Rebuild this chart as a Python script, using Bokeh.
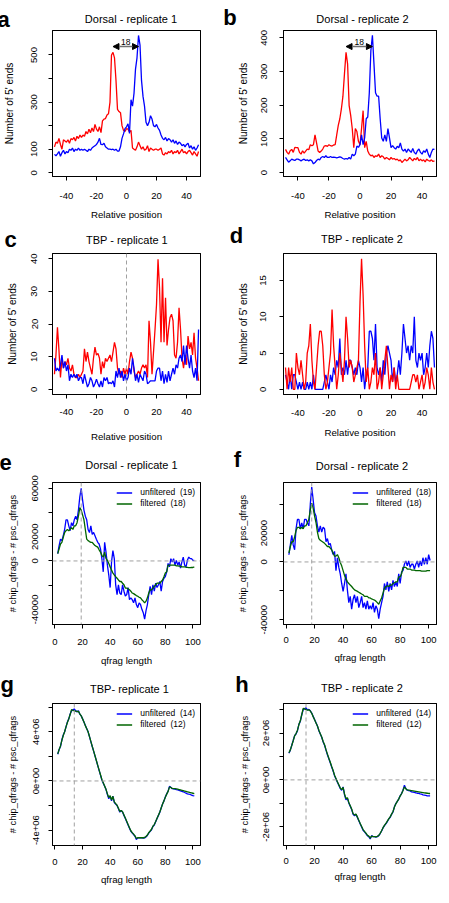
from bokeh.plotting import figure
from bokeh.models import (Range1d, FixedTicker, CustomJSTickFormatter, Span, Label,
                          Arrow, NormalHead, Legend, LegendItem, LinearAxis)
from bokeh.layouts import gridplot
from bokeh.embed import file_html
from bokeh.resources import INLINE

FONT = "Liberation Sans"

# ---------------- data ----------------
pos = list(range(-48, 49))          # relative position (a-d)
qlen = list(range(2, 102))          # qfrag length (e-h)

dorsal1_red = [110, 130, 125, 146, 120, 100, 140, 135,
               130, 140, 125, 145, 140, 150, 135, 155, 145, 160,
               150, 160, 155, 175, 165, 185, 170, 190, 175, 205,
               185, 175, 195, 170, 220, 228, 230, 245, 250, 300,
               500, 511, 488, 392, 269, 260, 255, 200, 180, 175,
               187, 185, 173, 180, 105, 100, 95, 110, 130, 115,
               100, 110, 95, 100, 115, 90, 105, 100, 95, 100,
               100, 95, 100, 105, 80, 75, 85, 80, 90, 85,
               95, 80, 90, 85, 95, 80, 90, 100, 85, 90,
               80, 90, 95, 85, 75, 90, 80, 70, 90]
dorsal1_blue = [78, 72, 80, 90, 70, 85, 95, 80,
                90, 85, 100, 95, 105, 90, 100, 95, 105, 95,
                100, 95, 100, 95, 90, 100, 95, 105, 110, 115,
                120, 130, 146, 120, 119, 125, 110, 105, 100, 100,
                98, 100, 95, 100, 92, 92, 110, 146, 165, 187,
                195, 208, 167, 310, 283, 337, 440, 488, 583, 542,
                392, 324, 283, 214, 200, 214, 242, 228, 200, 195,
                205, 190, 180, 160, 146, 140, 150, 135, 145, 140,
                130, 140, 125, 135, 120, 130, 125, 115, 120, 110,
                120, 125, 105, 115, 100, 110, 95, 105, 119]

dorsal2_red = [69, 60, 55, 65, 69, 60, 75, 74,
               74, 60, 55, 65, 58, 64, 70, 68, 83, 80,
               83, 112, 88, 64, 60, 64, 70, 79, 80, 78,
               83, 80, 79, 82, 83, 112, 140, 160, 189, 227,
               294, 357, 323, 199, 170, 131, 74, 131, 122, 93,
               83, 131, 184, 74, 93, 64, 55, 50, 52, 45,
               50, 48, 55, 45, 50, 47, 40, 45, 42, 38,
               45, 40, 42, 38, 40, 35, 38, 30, 35, 40,
               35, 38, 45, 40, 35, 42, 38, 45, 35, 40,
               35, 38, 32, 40, 36, 34, 38, 33, 35]
dorsal2_blue = [45, 38, 31, 35, 40, 38, 36, 40,
                40, 38, 35, 38, 40, 36, 38, 35, 38, 35,
                26, 30, 36, 40, 38, 45, 48, 45, 50, 45,
                45, 48, 45, 46, 45, 44, 45, 47, 45, 42,
                40, 42, 40, 45, 40, 55, 50, 55, 79, 75,
                83, 112, 83, 103, 160, 165, 237, 362, 408, 323,
                237, 227, 227, 160, 103, 93, 112, 93, 131, 103,
                74, 80, 74, 70, 78, 74, 88, 70, 64, 70,
                60, 70, 65, 60, 72, 60, 55, 65, 70, 60,
                55, 65, 60, 70, 55, 45, 60, 70, 69]

tbp1_red = [4.6, 10.5, 19, 12, 3.6, 9.5, 6.5, 8.5,
            7.5, 9.5, 6.5, 5.6, 7.5, 4.6, 3.6, 3.6, 4.6, 3.6,
            4.6, 5.6, 12.4, 8.5, 11.4, 8.5, 6.5, 4.6, 9.5, 12.9,
            10.5, 11, 9.5, 4.6, 8.5, 6.5, 9.5, 8.5, 9.5, 10.5,
            8.5, 11.4, 14.4, 12.4, 6.5, 4.6, 5.6, 3.6, 6.5, 4.6,
            6.5, 4.6, 8.5, 11.4, 9.5, 5.6, 3.6, 4.6, 5.6, 4.6,
            6.5, 7.5, 6.5, 7.5, 3.6, 21, 14.4, 4.6, 11.4, 18.3,
            26, 39.8, 31, 14.4, 34, 14.4, 28, 13.4, 18.3, 22,
            23, 21, 10.5, 9.5, 14.4, 25, 18.3, 9.5, 6.5, 10.5,
            7.5, 16.3, 12.4, 14.4, 10.5, 17.3, 9.5, 6.5, 2.6]
tbp1_blue = [9.5, 5.6, 6.5, 5.6, 7.5, 10.5, 6.5, 8.5,
             5.6, 7.5, 2.6, 4.6, 3.6, 4.6, 3.6, 4.6, 2.6, 3.6,
             3.6, 1.7, 4.6, 2.6, 0.7, 1.7, 3.6, 2.6, 0.7, 1.7,
             3.1, 1.7, 0.7, 2.6, 0.7, 3.6, 2.6, 3.6, 1.7, 2.1,
             1.7, 2.6, 0.7, 5.6, 3.6, 6.5, 3.6, 5.6, 2.6, 4.6,
             2.6, 3.6, 6.5, 4.6, 9.5, 6.5, 2.6, 4.6, 2.1, 4.6,
             3.6, 2.6, 5.6, 4.6, 1.7, 2.1, 2.6, 2.6, 2.6, 2.6,
             5.6, 6.5, 6.5, 2.6, 5.6, 1.7, 4.6, 2.1, 5.6, 2.6,
             4.6, 6.5, 4.6, 7.5, 6.5, 9.5, 10.5, 8.5, 13.4, 7.5,
             13.4, 9.5, 6.5, 10.5, 5.6, 3.6, 6.5, 2.6, 18.3]

tbp2_red = [3, 0, 3, 1, 3, 0, 0, 5,
            3, 2, 4, 2, 0, 1, 5, 6, 9, 4,
            1, 0, 3, 6, 8, 8, 6, 2, 0, 1,
            3, 5, 11, 6, 3, 0, 2, 5, 3, 1,
            4, 10, 7, 3, 4, 3, 1, 2, 3, 4,
            12, 18, 13, 6, 1, 3, 0, 1, 3, 2,
            5, 0, 1, 3, 0, 2, 4, 6, 3, 0,
            2, 1, 3, 0, 2, 0, 0, 0, 0, 0,
            0, 0, 0, 1, 2, 2, 1, 2, 0, 1,
            2, 0, 1, 3, 2, 0, 3, 1, 0]
tbp2_blue = [2, 1, 0, 2, 0, 2, 2, 1,
             0, 1, 0, 1, 0, 0, 1, 0, 1, 0,
             2, 0, 0, 0, 0, 0, 0, 1, 2, 1,
             0, 2, 1, 3, 2, 4, 3, 7, 2, 3,
             2, 4, 2, 4, 4, 3, 2, 3, 2, 4,
             3, 1, 3, 0, 2, 3, 8, 8, 7, 4,
             9, 3, 2, 3, 1, 4, 2, 5, 6, 5,
             4, 1, 3, 1, 2, 4, 2, 5, 9, 7,
             5, 6, 4, 6, 5, 10, 4, 3, 5, 4,
             5, 2, 3, 5, 3, 6, 8, 7, 3]

e_unfilt = [6000, 12700, 18000, 16800, 20800, 26000, 34000, 34000, 29000, 25000,
            31600, 29000, 34000, 37000, 34000, 42000, 53000, 60000, 50500, 42000,
            37000, 34000, 26000, 23500, 29000, 22000, 23500, 20800, 18000, 15400,
            14000, 10000, 1900, -9000, 15400, 7300, -3500, -11600, -22000, -800,
            8600, 1900, -19700, -27800, -19700, -26500, -27800, -19700, -25000, -29000,
            -27800, -22000, -32000, -30500, -32000, -34600, -30500, -36000, -38600, -34600,
            -36000, -40000, -42700, -48000, -41000, -36000, -27800, -21000, -27800, -19700,
            -25000, -18400, -22000, -19700, -17000, -25000, -17000, -14300, -13000, -9000,
            -2000, -4900, 1900, -800, 1900, -3500, 500, -3500, -800, -6000,
            -800, 3200, -3500, -4900, 500, 3200, 1900, 1900, 500, 500]
e_filt = [6000, 10000, 14000, 15400, 19500, 23500, 25000, 26000, 25000, 26000,
          27500, 26000, 29000, 29000, 31600, 37000, 44000, 42000, 38000, 34000,
          26000, 18000, 16800, 16000, 15400, 15400, 14000, 12700, 12000, 11400,
          9200, 7300, 4600, 3200, 7300, 1900, 500, -2200, -4900, -7600,
          -10000, -11600, -13000, -14300, -15700, -17000, -17000, -18400, -19700, -22400,
          -22400, -23000, -23800, -25000, -26500, -27000, -27800, -28600, -29200, -30000,
          -30500, -32000, -33200, -34600, -33200, -30500, -26500, -23800, -23800, -22400,
          -21000, -19700, -18400, -18400, -18400, -17000, -15700, -13000, -10000, -9000,
          -3500, -3500, -3500, -3500, -3500, -3500, -4000, -4000, -4300, -4300,
          -4900, -4900, -4900, -5200, -5400, -5600, -5600, -5400, -5400, -4900]

f_unfilt = [5000, 11800, 18400, 11800, 8400, 23000, 29500, 29500, 23000, 27000,
            23000, 29500, 29500, 27000, 25000, 40000, 51800, 43000, 34000, 31800,
            25000, 20700, 25000, 20700, 24000, 23000, 14000, 16200, 11800, 12900,
            8400, 5100, 7300, -6000, 2900, -3800, -8200, -14900, -20400, -14900,
            -8200, -19300, -28200, -23800, -32700, -26000, -22700, -28200, -23800, -31600,
            -28200, -23800, -31600, -28200, -32700, -27000, -32700, -30400, -32700, -28200,
            -34900, -30400, -32700, -39300, -32700, -28200, -23800, -14900, -19300, -13800,
            -20400, -14900, -19300, -12700, -17000, -13800, -17000, -8200, -14900, -7000,
            -6000, -1600, 700, -2700, 700, -3800, -1600, -1600, -4900, -1600,
            700, -3800, 700, -2700, 2900, -1600, 2900, -1600, 5100, 1000]
f_filt = [6200, 10700, 14000, 14000, 17300, 21800, 24000, 24000, 23000, 24000,
          23000, 25000, 25000, 27300, 29500, 36000, 40700, 37300, 31800, 27300,
          20700, 16200, 15000, 14300, 13600, 12900, 11800, 10700, 10700, 9600,
          8400, 6200, 4000, 4000, 5100, 2900, -400, -2700, -6000, -9300,
          -11600, -13800, -14900, -16000, -17000, -18200, -19300, -19800, -20400, -21000,
          -21600, -22200, -22700, -23800, -23800, -23800, -24900, -24900, -25600, -26000,
          -26400, -27100, -28200, -29300, -27100, -24900, -21600, -18200, -17000, -16500,
          -17000, -16000, -16000, -14900, -14400, -13800, -13800, -10400, -10400, -8200,
          -3800, -3800, -3800, -4900, -4900, -4900, -5600, -5600, -5600, -6000,
          -6000, -6000, -6000, -6400, -6400, -6400, -6400, -6000, -6000, -6000]

g_unfilt = [2.17e6, 2.56e6, 2.8e6, 3.35e6, 3.74e6, 4.0e6, 4.4e6, 4.8e6, 5.05e6, 5.44e6,
            5.7e6, 5.78e6, 5.86e6, 5.7e6, 5.62e6, 5.72e6, 5.44e6, 5.3e6, 5.05e6, 4.8e6,
            4.52e6, 4.26e6, 4.0e6, 3.6e6, 3.2e6, 2.8e6, 2.43e6, 2.04e6, 1.65e6, 1.25e6,
            0.86e6, 0.47e6, 0.08e6, -0.18e6, -0.44e6, -0.7e6, -1.1e6, -1.45e6, -1.23e6, -1.62e6,
            -1.23e6, -1.75e6, -1.88e6, -2.0e6, -2.27e6, -2.54e6, -2.4e6, -2.54e6, -2.8e6, -3.06e6,
            -3.32e6, -3.58e6, -3.84e6, -4.1e6, -4.23e6, -4.37e6, -4.5e6, -4.76e6, -4.63e6, -4.63e6,
            -4.63e6, -4.63e6, -4.65e6, -4.63e6, -4.55e6, -4.44e6, -4.23e6, -4.1e6, -3.97e6, -3.7e6,
            -3.58e6, -3.32e6, -3.06e6, -2.8e6, -2.54e6, -2.2e6, -1.88e6, -1.62e6, -1.3e6, -1.05e6,
            -0.84e6, -0.44e6, -0.52e6, -0.63e6, -0.65e6, -0.67e6, -0.7e6, -0.72e6, -0.76e6, -0.8e6,
            -0.84e6, -0.88e6, -0.94e6, -0.99e6, -1.05e6, -1.08e6, -1.1e6, -1.15e6, -1.2e6, -1.22e6]
g_filt = [2.2e6, 2.55e6, 2.85e6, 3.3e6, 3.7e6, 4.0e6, 4.4e6, 4.75e6, 5.05e6, 5.4e6,
          5.8e6, 5.75e6, 5.7e6, 5.68e6, 5.65e6, 5.66e6, 5.45e6, 5.3e6, 5.05e6, 4.8e6,
          4.5e6, 4.25e6, 4.0e6, 3.62e6, 3.22e6, 2.82e6, 2.45e6, 2.05e6, 1.66e6, 1.27e6,
          0.88e6, 0.5e6, 0.12e6, -0.15e6, -0.42e6, -0.68e6, -1.05e6, -1.35e6, -1.2e6, -1.55e6,
          -1.25e6, -1.7e6, -1.85e6, -1.98e6, -2.22e6, -2.48e6, -2.4e6, -2.5e6, -2.76e6, -3.02e6,
          -3.28e6, -3.55e6, -3.8e6, -4.05e6, -4.2e6, -4.33e6, -4.47e6, -4.68e6, -4.62e6, -4.62e6,
          -4.62e6, -4.62e6, -4.62e6, -4.6e6, -4.52e6, -4.4e6, -4.2e6, -4.07e6, -3.93e6, -3.68e6,
          -3.55e6, -3.3e6, -3.04e6, -2.78e6, -2.52e6, -2.2e6, -1.88e6, -1.62e6, -1.32e6, -1.07e6,
          -0.85e6, -0.5e6, -0.53e6, -0.6e6, -0.62e6, -0.63e6, -0.65e6, -0.67e6, -0.7e6, -0.73e6,
          -0.76e6, -0.79e6, -0.82e6, -0.85e6, -0.88e6, -0.91e6, -0.94e6, -0.97e6, -1.0e6, -1.03e6]

h_unfilt = [1.14e6, 1.27e6, 1.48e6, 1.68e6, 1.89e6, 1.96e6, 2.1e6, 2.37e6, 2.5e6, 2.78e6,
            2.99e6, 3.04e6, 3.07e6, 2.99e6, 3.01e6, 2.95e6, 2.85e6, 2.71e6, 2.58e6, 2.44e6,
            2.3e6, 2.1e6, 1.96e6, 1.82e6, 1.62e6, 1.48e6, 1.27e6, 1.07e6, 0.9e6, 0.73e6,
            0.55e6, 0.38e6, 0.18e6, 0.04e6, -0.1e6, -0.23e6, -0.37e6, -0.44e6, -0.3e6, -0.64e6,
            -0.85e6, -0.78e6, -0.99e6, -1.12e6, -1.26e6, -1.47e6, -1.53e6, -1.47e6, -1.6e6, -1.74e6,
            -1.88e6, -2.01e6, -2.15e6, -2.22e6, -2.29e6, -2.38e6, -2.42e6, -2.52e6, -2.38e6, -2.42e6,
            -2.42e6, -2.44e6, -2.42e6, -2.38e6, -2.29e6, -2.18e6, -2.05e6, -1.95e6, -1.88e6, -1.78e6,
            -1.67e6, -1.6e6, -1.47e6, -1.37e6, -1.15e6, -1.01e6, -0.92e6, -0.82e6, -0.68e6, -0.58e6,
            -0.44e6, -0.23e6, -0.37e6, -0.44e6, -0.46e6, -0.47e6, -0.51e6, -0.52e6, -0.53e6, -0.55e6,
            -0.57e6, -0.58e6, -0.6e6, -0.61e6, -0.64e6, -0.65e6, -0.66e6, -0.68e6, -0.68e6, -0.68e6]
h_filt = [1.16e6, 1.28e6, 1.47e6, 1.67e6, 1.88e6, 1.98e6, 2.12e6, 2.36e6, 2.52e6, 2.78e6,
          3.05e6, 3.03e6, 3.0e6, 2.98e6, 2.99e6, 2.94e6, 2.84e6, 2.7e6, 2.57e6, 2.43e6,
          2.3e6, 2.12e6, 1.97e6, 1.83e6, 1.64e6, 1.5e6, 1.29e6, 1.1e6, 0.92e6, 0.75e6,
          0.57e6, 0.4e6, 0.2e6, 0.06e6, -0.08e6, -0.21e6, -0.34e6, -0.42e6, -0.32e6, -0.6e6,
          -0.8e6, -0.76e6, -0.96e6, -1.1e6, -1.24e6, -1.44e6, -1.5e6, -1.46e6, -1.58e6, -1.72e6,
          -1.86e6, -1.99e6, -2.12e6, -2.2e6, -2.27e6, -2.36e6, -2.4e6, -2.48e6, -2.4e6, -2.42e6,
          -2.42e6, -2.43e6, -2.41e6, -2.37e6, -2.28e6, -2.17e6, -2.04e6, -1.94e6, -1.86e6, -1.76e6,
          -1.66e6, -1.58e6, -1.46e6, -1.35e6, -1.16e6, -1.02e6, -0.92e6, -0.82e6, -0.69e6, -0.59e6,
          -0.45e6, -0.3e6, -0.38e6, -0.43e6, -0.44e6, -0.45e6, -0.46e6, -0.47e6, -0.48e6, -0.49e6,
          -0.5e6, -0.51e6, -0.52e6, -0.53e6, -0.54e6, -0.55e6, -0.56e6, -0.57e6, -0.58e6, -0.58e6]

pos_ticks = [-40, -20, 0, 20, 40]
pos_labels = ["-40", "-20", "0", "20", "40"]
q_ticks = [0, 20, 40, 60, 80, 100]
q_labels = ["0", "20", "40", "60", "80", "100"]

a_yticks = [0, 100, 200, 300, 400, 500]
a_ylabels = ["0", "100", "", "300", "", "500"]
b_yticks = [0, 100, 200, 300, 400]
b_ylabels = ["0", "100", "200", "300", "400"]
c_yticks = [0, 10, 20, 30, 40]
c_ylabels = ["0", "10", "20", "30", "40"]
d_yticks = [0, 5, 10, 15]
d_ylabels = ["0", "5", "10", "15"]
e_yticks = [-40000, -20000, 0, 20000, 40000, 60000]
e_ylabels = ["-40000", "", "0", "20000", "", "60000"]
f_yticks = [-40000, -20000, 0, 20000, 40000]
f_ylabels = ["-40000", "", "0", "20000", ""]
g_yticks = [-4e6, -2e6, 0, 2e6, 4e6, 6e6]
g_ylabels = ["-4e+06", "", "0e+00", "", "4e+06", ""]
h_yticks = [-2e6, -1e6, 0, 1e6, 2e6, 3e6]
h_ylabels = ["-2e+06", "", "0e+00", "", "2e+06", ""]

legend_e = ["unfiltered  (19)", "filtered  (18)"]
legend_f = ["unfiltered  (18)", "filtered  (18)"]
legend_g = ["unfiltered  (14)", "filtered  (12)"]
legend_h = ["unfiltered  (14)", "filtered  (12)"]
peak_gap_label = "18"

RED = "#ff0000"
BLUE = "#0000ff"
GREEN = "#006400"
DASH = "#a0a0a0"

# approximate glyph advance widths (em) of the bold panel letters, for placement
LETTER_EM = {"a": 0.556, "b": 0.611, "c": 0.556, "d": 0.611,
             "e": 0.556, "f": 0.333, "g": 0.611, "h": 0.611}
LETTER_PX = 22
FH = 1.117  # font height (ascent+descent) in em

# extra standoffs (x tick, x label, y tick, y label) and text raises
DXT, DXL, DYT, DYL = 2, 1, 2, 2
TITLE_RAISE = 4


def formatter(tks, lbs):
    return CustomJSTickFormatter(args=dict(tks=tks, lbs=lbs), code="""
        for (let i = 0; i < tks.length; i++) {
            if (Math.abs(tks[i] - tick) <= 1e-9 * Math.max(1, Math.abs(tks[i]))) return lbs[i];
        }
        return "";
    """)


def box_axis():
    return LinearAxis(ticker=FixedTicker(ticks=[], minor_ticks=[]), axis_line_color="black",
                      major_tick_out=0, major_tick_in=0, minor_tick_out=0, minor_tick_in=0,
                      major_label_standoff=0, major_label_text_font_size="0px")


def panel(W, H, L, R, T, B, xr, yr, xt, xl, yt, yl, xlab, ylab,
          xs_tick, xs_lab, ys_tick, ys_lab, title, t_base, letter, l_x, l_base,
          right_col, ylab_px=10.0):
    xs_tick += DXT
    xs_lab += DXL
    ys_tick += DYT
    ys_lab += DYL
    p = figure(width=W, height=H, x_range=Range1d(*xr), y_range=Range1d(*yr),
               output_backend="svg", toolbar_location=None,
               min_border_left=L, min_border_right=R, min_border_top=T, min_border_bottom=B)
    p.xgrid.visible = False
    p.ygrid.visible = False
    p.outline_line_color = "black"
    p.background_fill_color = "white"
    p.border_fill_color = "white"
    for ax, tk, lb, st, sl, lab in ((p.xaxis[0], xt, xl, xs_tick, xs_lab, xlab),
                                    (p.yaxis[0], yt, yl, ys_tick, ys_lab, ylab)):
        ax.ticker = FixedTicker(ticks=tk, minor_ticks=[])
        ax.formatter = formatter(tk, lb)
        ax.axis_line_color = "black"
        ax.major_tick_line_color = "black"
        ax.minor_tick_line_color = None
        ax.major_tick_in = 0
        ax.major_tick_out = 4
        ax.major_label_text_font = FONT
        ax.major_label_text_font_size = "9.5px"
        ax.major_label_text_color = "black"
        ax.major_label_standoff = st
        ax.axis_label = lab
        ax.axis_label_text_font = FONT
        ax.axis_label_text_font_style = "normal"
        ax.axis_label_text_color = "black"
        ax.axis_label_standoff = sl
    p.xaxis.axis_label_text_font_size = "9.7px"
    p.yaxis.axis_label_text_font_size = "%.1fpx" % ylab_px
    p.yaxis.major_label_orientation = "vertical"
    # closed box: plain axes on the other two sides
    p.add_layout(box_axis(), "above")
    p.add_layout(box_axis(), "right")

    fw = W - L - R
    # title, in the panel above the frame
    p.add_layout(Label(x=fw / 2, y=T - t_base + TITLE_RAISE, x_units="screen", y_units="screen",
                       text=title, text_align="center", text_baseline="alphabetic",
                       text_font=FONT, text_font_size="11px", text_color="black"), "above")
    # panel letter, in a side panel so that it is not clipped
    lw = LETTER_EM[letter] * LETTER_PX
    if right_col:
        axis_size = 4 + ys_tick + FH * 9.5 + ys_lab + FH * ylab_px
        slot_left = L - axis_size - lw
        side = "left"
    else:
        slot_left = W - R
        side = "right"
        l_x = l_x + 4
    p.add_layout(Label(x=l_x - slot_left, y=(H - B) - l_base,
                       x_units="screen", y_units="screen",
                       text=letter, text_align="left", text_baseline="alphabetic",
                       text_font=FONT, text_font_size="%dpx" % LETTER_PX, text_font_style="bold",
                       text_color="black"), side)
    return p


def add_arrow(p, red, blue, yr):
    i_r = red.index(max(red))
    i_b = blue.index(max(blue))
    y = max(red) + 0.04 * (yr[1] - yr[0])
    p.add_layout(Arrow(x_start=pos[i_r], y_start=y, x_end=pos[i_b], y_end=y,
                       line_color="#707070", line_width=1.5,
                       start=NormalHead(size=6, fill_color="black", line_color="black"),
                       end=NormalHead(size=6, fill_color="black", line_color="black")))
    p.add_layout(Label(x=(pos[i_r] + pos[i_b]) / 2, y=y, y_offset=2, text=peak_gap_label,
                       text_align="center", text_baseline="bottom", text_font=FONT,
                       text_font_size="8.5px", text_color="black"))


def add_legend(p, rb, rg, labels):
    leg = Legend(items=[LegendItem(label=labels[0], renderers=[rb]),
                        LegendItem(label=labels[1], renderers=[rg])],
                 location="top_right", border_line_alpha=0, background_fill_alpha=0,
                 label_text_font=FONT, label_text_font_size="8.5px", label_text_color="black",
                 glyph_width=16, glyph_height=9, label_height=9, spacing=1,
                 padding=2, margin=3, label_standoff=8)
    p.add_layout(leg)


POSR = (-49.3, 49.3)
QR = (-1.8, 105.5)
YL5 = "Number of 5' ends"
YLQ = "# chip_qfrags - # psc_qfrags"

# a
a_yr = (-16, 604)
pa = panel(221, 222, 50, 14, 30, 43, POSR, a_yr, pos_ticks, pos_labels, a_yticks, a_ylabels,
           "Relative position", YL5, 10, 6, 9, 12, "Dorsal - replicate 1", 22.1, "a", 0, 21.5, False)
pa.line(pos, dorsal1_red, line_color=RED, line_width=1.3)
pa.line(pos, dorsal1_blue, line_color=BLUE, line_width=1.3)
add_arrow(pa, dorsal1_red, dorsal1_blue, a_yr)

# b
b_yr = (-11.5, 422)
pb = panel(220, 222, 61, 1, 30, 43, POSR, b_yr, pos_ticks, pos_labels, b_yticks, b_ylabels,
           "Relative position", YL5, 10, 6, 10, 8, "Dorsal - replicate 2", 22.8, "b", 1.6, 20, True)
pb.line(pos, dorsal2_red, line_color=RED, line_width=1.3)
pb.line(pos, dorsal2_blue, line_color=BLUE, line_width=1.3)
add_arrow(pb, dorsal2_red, dorsal2_blue, b_yr)

# c
pc = panel(221, 222, 48, 21, 31, 48, POSR, (-1.6, 41.6), pos_ticks, pos_labels, c_yticks, c_ylabels,
           "Relative position", YL5, 8, 12, 9, 9, "TBP - replicate  1", 21, "c", 0, 19, False)
pc.add_layout(Span(location=0, dimension="height", line_color=DASH, line_dash="4 3", line_width=1))
pc.line(pos, tbp1_red, line_color=RED, line_width=1.3)
pc.line(pos, tbp1_blue, line_color=BLUE, line_width=1.3)

# d
pd_ = panel(220, 222, 61, 2, 31, 43, POSR, (-0.72, 18.72), pos_ticks, pos_labels, d_yticks, d_ylabels,
            "Relative position", YL5, 9, 7, 11, 7, "TBP - replicate 2", 20.1, "d", 8.1, 20, True)
pd_.line(pos, tbp2_blue, line_color=BLUE, line_width=1.3)
pd_.line(pos, tbp2_red, line_color=RED, line_width=1.3)


def qpanel(W, H, L, R, T, B, yr, yt, yl, xs_tick, xs_lab, ys_tick, ys_lab, title, t_base,
           letter, l_x, l_base, right_col, unf, fil, legend_labels):
    p = panel(W, H, L, R, T, B, QR, yr, q_ticks, q_labels, yt, yl, "qfrag length", YLQ,
              xs_tick, xs_lab, ys_tick, ys_lab, title, t_base, letter, l_x, l_base,
              right_col, ylab_px=9.3)
    peak = qlen[unf.index(max(unf))]
    p.add_layout(Span(location=peak, dimension="height", line_color=DASH, line_dash="4 3", line_width=1))
    p.add_layout(Span(location=0, dimension="width", line_color=DASH, line_dash="4 3", line_width=1))
    rb = p.line(qlen, unf, line_color=BLUE, line_width=1.3)
    rg = p.line(qlen, fil, line_color=GREEN, line_width=1.3)
    add_legend(p, rb, rg, legend_labels)
    return p


pe = qpanel(221, 224, 47, 16, 38, 42, (-52500, 64800), e_yticks, e_ylabels, 8, 6, 8, 10,
            "Dorsal - replicate 1", 24.9, "e", 0, 20, False, e_unfilt, e_filt, legend_e)
pf = qpanel(220, 224, 58, 5, 38, 39, (-43300, 55000), f_yticks, f_ylabels, 6, 5, 10, 9,
            "Dorsal - replicate 2", 25.6, "f", 8.8, 20, True, f_unfilt, f_filt, legend_f)
pg = qpanel(221, 219, 47, 17, 34, 40, (-5.25e6, 6.3e6), g_yticks, g_ylabels, 7, 5, 7, 11,
            "TBP- replicate  1", 23.2, "g", 0, 18, False, g_unfilt, g_filt, legend_g)
ph = qpanel(220, 219, 59, 4, 35, 38, (-2.8e6, 3.26e6), h_yticks, h_ylabels, 6, 3, 8, 9,
            "TBP - replicate 2", 23.5, "h", 11.4, 20, True, h_unfilt, h_filt, legend_h)

grid = gridplot([[pa, pb], [pc, pd_], [pe, pf], [pg, ph]], toolbar_location=None)

open("out.html", "w").write(file_html(grid, INLINE))
